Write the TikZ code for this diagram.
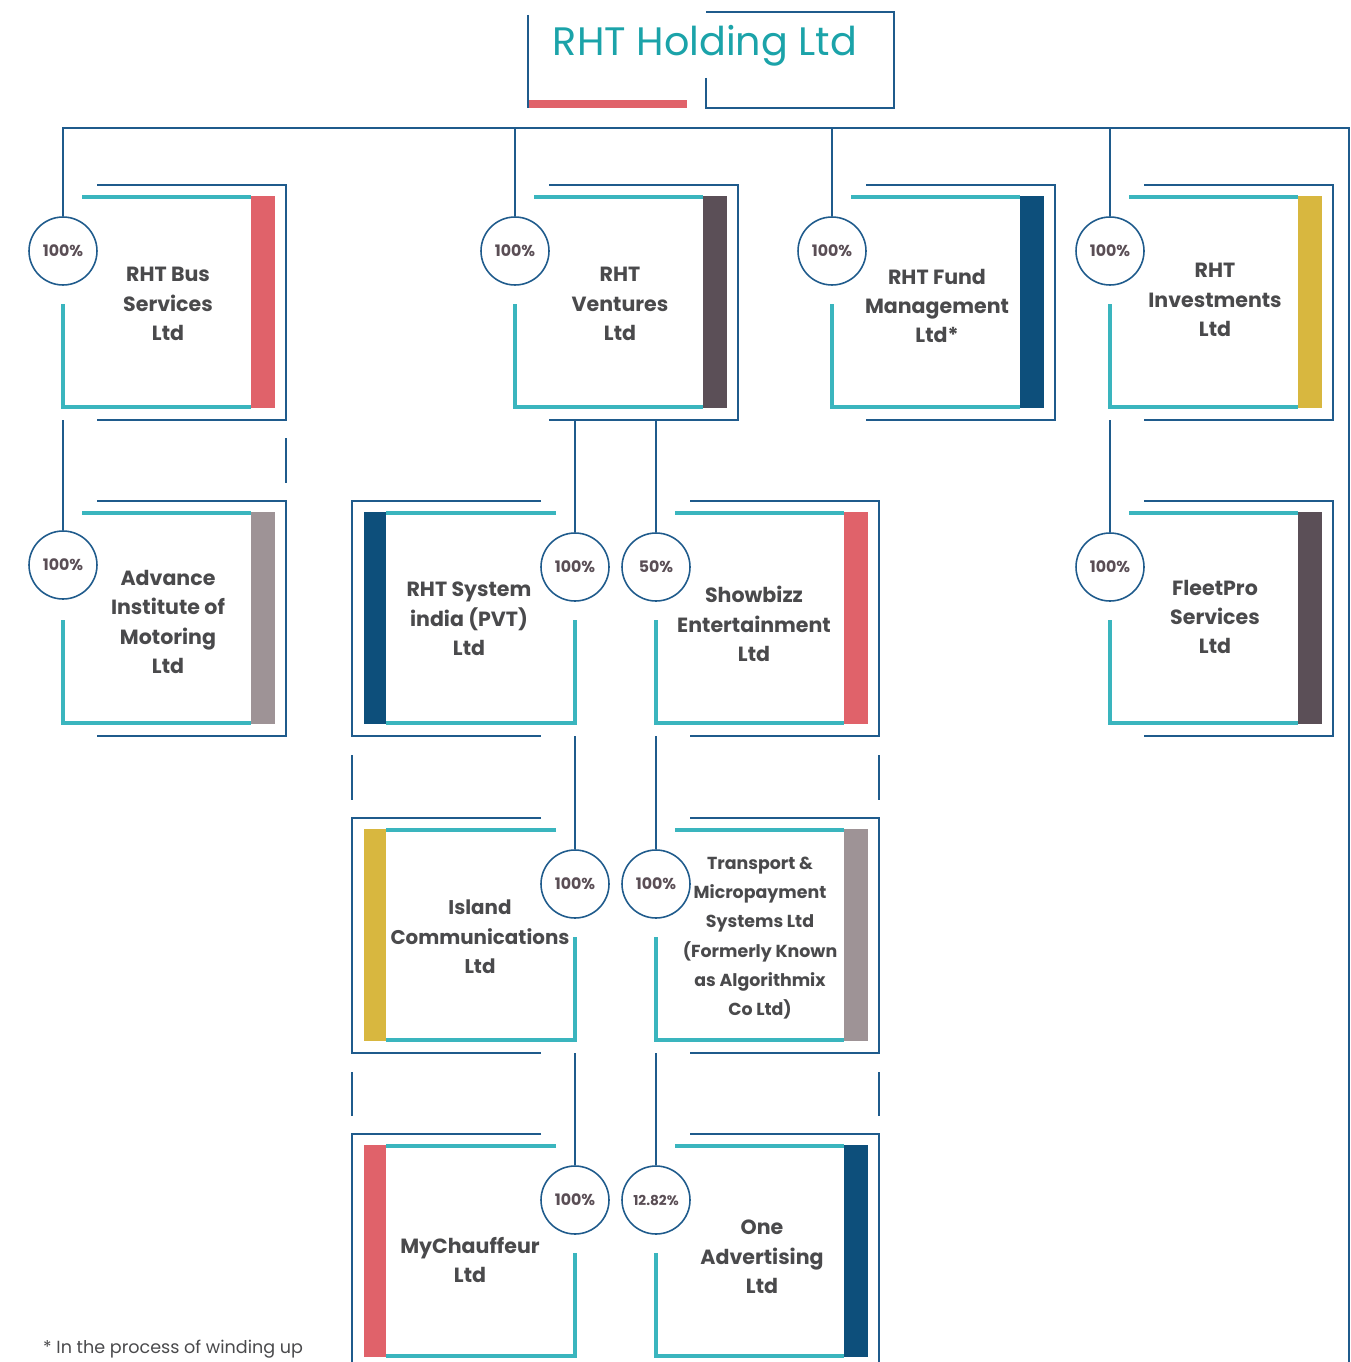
\documentclass[tikz,border=0pt]{standalone}
\usepackage{fontspec}
\setmainfont{Poppins}
\usepackage{tikz}
\usetikzlibrary{positioning}

\definecolor{frameblue}{HTML}{1F5B8C}
\definecolor{tealline}{HTML}{3AB5BE}
\definecolor{barred}{HTML}{E0626A}
\definecolor{barslate}{HTML}{5B4F57}
\definecolor{barnavy}{HTML}{0D4F7B}
\definecolor{bargold}{HTML}{D8B73F}
\definecolor{barmauve}{HTML}{9E9396}
\definecolor{titleteal}{HTML}{1BA3A9}
\definecolor{textgray}{HTML}{4A4A4C}
\definecolor{pctgray}{HTML}{5A4E55}

\begin{document}
\begin{tikzpicture}[x=0.02cm,y=-0.02cm,
outerline/.style={draw=frameblue,line width=1pt},
innerline/.style={draw=tealline,line width=1.8pt},
link/.style={draw=frameblue,line width=0.9pt},
pct/.style={circle,draw=frameblue,line width=0.9pt,fill=white,minimum size=1.36cm,inner sep=0pt,font=\fontsize{9}{10}\selectfont\bfseries,text=pctgray},
org/.style={align=center,font=\fontsize{11.7}{16.7}\selectfont\bfseries,text=textgray}]
\useasboundingbox (0,0) rectangle (1351,1362);

% title
\draw[fill=barred,draw=none] (528,100) rectangle (687,108);
\draw[outerline] (528,15) -- (528,108);
\draw[outerline] (706,78) -- (706,108) -- (894,108) -- (894,12) -- (706,12);
\node[font=\fontsize{22.6}{24}\selectfont,text=titleteal] (root) at (705,46) {RHT Holding Ltd};

% row 1
\draw[outerline] (97,185) -- (286,185) -- (286,420) -- (97,420);
\draw[innerline] (82,197) -- (251,197);
\draw[innerline] (63,304) -- (63,407) -- (251,407);
\draw[fill=barred,draw=none] (251,196) rectangle (275,408);
\node[pct] (pBus) at (63,251) {100\%};
\node[org] (tBus) at (168,304) {RHT Bus\\Services\\Ltd};

\draw[outerline] (549,185) -- (738,185) -- (738,420) -- (549,420);
\draw[innerline] (534,197) -- (703,197);
\draw[innerline] (515,304) -- (515,407) -- (703,407);
\draw[fill=barslate,draw=none] (703,196) rectangle (727,408);
\node[pct] (pVent) at (515,251) {100\%};
\node[org] (tVent) at (620,304) {RHT\\Ventures\\Ltd};

\draw[outerline] (866,185) -- (1055,185) -- (1055,420) -- (866,420);
\draw[innerline] (851,197) -- (1020,197);
\draw[innerline] (832,304) -- (832,407) -- (1020,407);
\draw[fill=barnavy,draw=none] (1020,196) rectangle (1044,408);
\node[pct] (pFund) at (832,251) {100\%};
\node[org] (tFund) at (937,306) {RHT Fund\\Management\\Ltd*};

\draw[outerline] (1144,185) -- (1333,185) -- (1333,420) -- (1144,420);
\draw[innerline] (1129,197) -- (1298,197);
\draw[innerline] (1110,304) -- (1110,407) -- (1298,407);
\draw[fill=bargold,draw=none] (1298,196) rectangle (1322,408);
\node[pct] (pInv) at (1110,251) {100\%};
\node[org] (tInv) at (1215,300) {RHT\\Investments\\Ltd};

% row 2
\draw[outerline] (97,501) -- (286,501) -- (286,736) -- (97,736);
\draw[innerline] (82,513) -- (251,513);
\draw[innerline] (63,620) -- (63,723) -- (251,723);
\draw[fill=barmauve,draw=none] (251,512) rectangle (275,724);
\node[pct] (pAdv) at (63,565) {100\%};
\node[org] (tAdv) at (168,622) {Advance\\Institute of\\Motoring\\Ltd};

\draw[outerline] (541,501) -- (352,501) -- (352,736) -- (541,736);
\draw[innerline] (556,513) -- (386,513);
\draw[innerline] (575,620) -- (575,723) -- (386,723);
\draw[fill=barnavy,draw=none] (364,512) rectangle (386,724);
\node[pct] (pSys) at (575,567) {100\%};
\node[org] (tSys) at (469,619) {RHT System\\india (PVT)\\Ltd};

\draw[outerline] (690,501) -- (879,501) -- (879,736) -- (690,736);
\draw[innerline] (675,513) -- (844,513);
\draw[innerline] (656,620) -- (656,723) -- (844,723);
\draw[fill=barred,draw=none] (844,512) rectangle (868,724);
\node[pct] (pShow) at (656,567) {50\%};
\node[org] (tShow) at (754,624) {Showbizz\\Entertainment\\Ltd};

\draw[outerline] (1144,501) -- (1333,501) -- (1333,736) -- (1144,736);
\draw[innerline] (1129,513) -- (1298,513);
\draw[innerline] (1110,620) -- (1110,723) -- (1298,723);
\draw[fill=barslate,draw=none] (1298,512) rectangle (1322,724);
\node[pct] (pFleet) at (1110,567) {100\%};
\node[org] (tFleet) at (1215,617) {FleetPro\\Services\\Ltd};

% row 3
\draw[outerline] (541,818) -- (352,818) -- (352,1053) -- (541,1053);
\draw[innerline] (556,830) -- (386,830);
\draw[innerline] (575,937) -- (575,1040) -- (386,1040);
\draw[fill=bargold,draw=none] (364,829) rectangle (386,1041);
\node[pct] (pIsl) at (575,884) {100\%};
\node[org,font=\fontsize{11.3}{16.7}\selectfont\bfseries] (tIsl) at (480,937) {Island\\Communications\\Ltd};

\draw[outerline] (690,818) -- (879,818) -- (879,1053) -- (690,1053);
\draw[innerline] (675,830) -- (844,830);
\draw[innerline] (656,937) -- (656,1040) -- (844,1040);
\draw[fill=barmauve,draw=none] (844,829) rectangle (868,1041);
\node[pct] (pTrans) at (656,884) {100\%};
\node[org,font=\fontsize{9.9}{16.7}\selectfont\bfseries] (tTrans) at (760,938) {Transport \&\\Micropayment\\Systems Ltd\\(Formerly Known\\as Algorithmix\\Co Ltd)};

% row 4
\draw[outerline] (541,1134) -- (352,1134) -- (352,1369) -- (541,1369);
\draw[innerline] (556,1146) -- (386,1146);
\draw[innerline] (575,1253) -- (575,1356) -- (386,1356);
\draw[fill=barred,draw=none] (364,1145) rectangle (386,1357);
\node[pct] (pCh) at (575,1200) {100\%};
\node[org] (tCh) at (470,1260) {MyChauffeur\\Ltd};

\draw[outerline] (690,1134) -- (879,1134) -- (879,1369) -- (690,1369);
\draw[innerline] (675,1146) -- (844,1146);
\draw[innerline] (656,1253) -- (656,1356) -- (844,1356);
\draw[fill=barnavy,draw=none] (844,1145) rectangle (868,1357);
\node[pct,font=\fontsize{7.8}{9}\selectfont\bfseries] (pAd) at (656,1200) {12.82\%};
\node[org] (tAd) at (762,1257) {One\\Advertising\\Ltd};

% short rails between rows
\draw[outerline] (286,438) -- (286,483);
\draw[outerline] (352,755) -- (352,800);
\draw[outerline] (352,1072) -- (352,1116);
\draw[outerline] (879,755) -- (879,800);
\draw[outerline] (879,1072) -- (879,1116);

% connectors
\coordinate (busL) at (63,128);
\coordinate (busR) at (1349,128);
\coordinate (railEnd) at (1349,1362);
\coordinate (cBus) at (63,420);
\coordinate (cVent) at (515,420);
\coordinate (cInv) at (1110,420);
\coordinate (cSys) at (575,736);
\coordinate (cShow) at (656,736);
\coordinate (cIsl) at (575,1053);
\coordinate (cTrans) at (656,1053);
\draw[link] (pBus) -- (busL) -- (busR) -- (railEnd);
\draw[link] (pVent) -- (pVent |- busL);
\draw[link] (pFund) -- (pFund |- busL);
\draw[link] (pInv) -- (pInv |- busL);
\draw[link] (pAdv) -- (cBus);
\draw[link] (pSys) -- (pSys |- cVent);
\draw[link] (pShow) -- (pShow |- cVent);
\draw[link] (pFleet) -- (cInv);
\draw[link] (pIsl) -- (cSys);
\draw[link] (pTrans) -- (cShow);
\draw[link] (pCh) -- (cIsl);
\draw[link] (pAd) -- (cTrans);

\node[font=\fontsize{10}{11}\selectfont,text=textgray,anchor=west] (note) at (37,1349) {* In the process of winding up};

\end{tikzpicture}
\end{document}
